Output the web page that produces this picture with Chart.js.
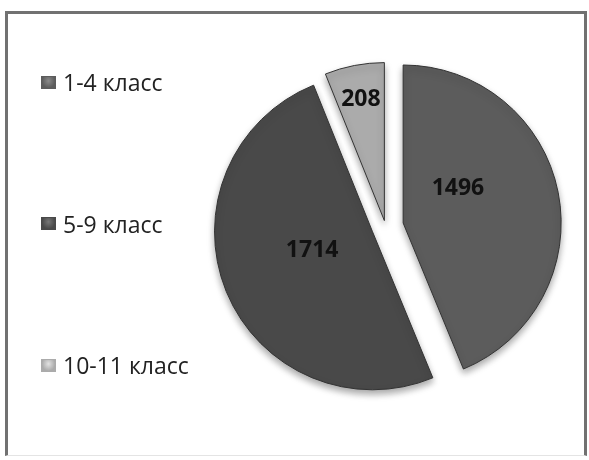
<!DOCTYPE html>
<html><head><meta charset="utf-8">
<script src="https://cdn.jsdelivr.net/npm/chart.js@4.4.1/dist/chart.umd.min.js"></script>
<style>
html,body{margin:0;padding:0;background:#fff;}
#wrap{position:relative;width:589px;height:460px;overflow:hidden;background:#fff;}
#frame{position:absolute;left:5px;top:11px;width:576px;height:441px;border:3px solid #717171;border-bottom:1px solid #e4e4e4;}
#chart{position:absolute;left:0;top:0;}
#legend{position:absolute;left:41px;top:67px;margin:0;padding:0;list-style:none;display:flex;flex-direction:column;gap:111.5px;font-family:"Open Sans",sans-serif;font-size:23px;color:#222;}
#legend li{display:flex;align-items:center;height:30px;white-space:nowrap;}
#legend .box{width:13px;height:11px;margin-right:7px;flex:none;}
</style>
</head>
<body>
<div id="wrap">
  <div id="frame"></div>
  <canvas id="chart" width="589" height="460"></canvas>
  <ul id="legend"></ul>
</div>
<script>
// ---- data ----
const categories = ["1-4 класс", "5-9 класс", "10-11 класс"];
const pupils = [1496, 1714, 208];

// ---- style ----
const sliceColors = ["#5c5c5c", "#494949", "#ababab"];
const sliceLight = ["#8a8a8a", "#777777", "#e2e2e2"];
const explode = [18, 14, 6];            // px each slice is pulled out
const labelAngleShift = [-21, 5, 0];    // degrees from slice middle
const labelRadius = [0.41, 0.40, 0.78]; // fraction of radius

// Explode slices by pure translation (no radius growth)
const origArcDraw = Chart.ArcElement.prototype.draw;
Chart.ArcElement.prototype.draw = function (ctx) {
  const opts = this.options;
  const t = opts.offset || 0;
  const mid = (this.startAngle + this.endAngle) / 2;
  this.options = Object.assign({}, opts, { offset: 0 });
  ctx.save();
  ctx.translate(Math.cos(mid) * t, Math.sin(mid) * t);
  origArcDraw.call(this, ctx);
  ctx.restore();
  this.options = opts;
};

const shadowPlugin = {
  id: 'pieShadow',
  beforeDatasetsDraw(chart) {
    const ctx = chart.ctx;
    ctx.save();
    ctx.shadowColor = 'rgba(0,0,0,0.35)';
    ctx.shadowBlur = 7;
    ctx.shadowOffsetY = 4;
  },
  afterDatasetsDraw(chart) { chart.ctx.restore(); }
};

const valueLabels = {
  id: 'valueLabels',
  afterDraw(chart) {
    const ctx = chart.ctx;
    const meta = chart.getDatasetMeta(0);
    ctx.save();
    ctx.font = 'bold 23px "Open Sans", sans-serif';
    ctx.fillStyle = '#111';
    ctx.textAlign = 'center';
    ctx.textBaseline = 'middle';
    meta.data.forEach((arc, i) => {
      const p = arc.getProps(['x', 'y', 'startAngle', 'endAngle', 'outerRadius'], true);
      const mid = (p.startAngle + p.endAngle) / 2;
      const t = explode[i];
      const cx = p.x + Math.cos(mid) * t;
      const cy = p.y + Math.sin(mid) * t;
      const a = mid + labelAngleShift[i] * Math.PI / 180;
      const r = p.outerRadius * labelRadius[i];
      ctx.fillText(String(chart.data.datasets[0].data[i]), cx + Math.cos(a) * r, cy + Math.sin(a) * r);
    });
    ctx.restore();
  }
};

function sliceFill(context) {
  const i = context.dataIndex;
  const chart = context.chart;
  const arc = chart.getDatasetMeta(0).data[i];
  if (!arc || !arc.outerRadius) return sliceColors[i];
  const mid = (arc.startAngle + arc.endAngle) / 2;
  const cx = arc.x + Math.cos(mid) * explode[i];
  const cy = arc.y + Math.sin(mid) * explode[i];
  const g = chart.ctx.createRadialGradient(cx, cy, 0, cx, cy, arc.outerRadius);
  g.addColorStop(0, sliceColors[i]);
  g.addColorStop(0.9, sliceColors[i]);
  g.addColorStop(1, sliceLight[i]);
  return g;
}

const chart = new Chart(document.getElementById('chart'), {
  type: 'pie',
  data: {
    labels: categories,
    datasets: [{
      data: pupils,
      backgroundColor: sliceFill,
      borderColor: '#333333',
      borderWidth: 1,
      offset: explode
    }]
  },
  options: {
    responsive: false,
    animation: false,
    radius: 158,
    layout: { padding: { left: 182, right: 0, top: 0, bottom: 7 } },
    plugins: { legend: { display: false }, tooltip: { enabled: false } }
  },
  plugins: [shadowPlugin, valueLabels]
});

// HTML legend built from chart data
const legendEl = document.getElementById('legend');
chart.data.labels.forEach((lab, i) => {
  const li = document.createElement('li');
  const box = document.createElement('span');
  box.className = 'box';
  box.style.background = `radial-gradient(ellipse at 50% 35%, ${sliceLight[i]} 0%, ${sliceColors[i]} 70%)`;
  box.style.border = '1px solid ' + sliceColors[i];
  const txt = document.createElement('span');
  txt.textContent = lab;
  li.appendChild(box);
  li.appendChild(txt);
  legendEl.appendChild(li);
});
</script>
</body></html>
